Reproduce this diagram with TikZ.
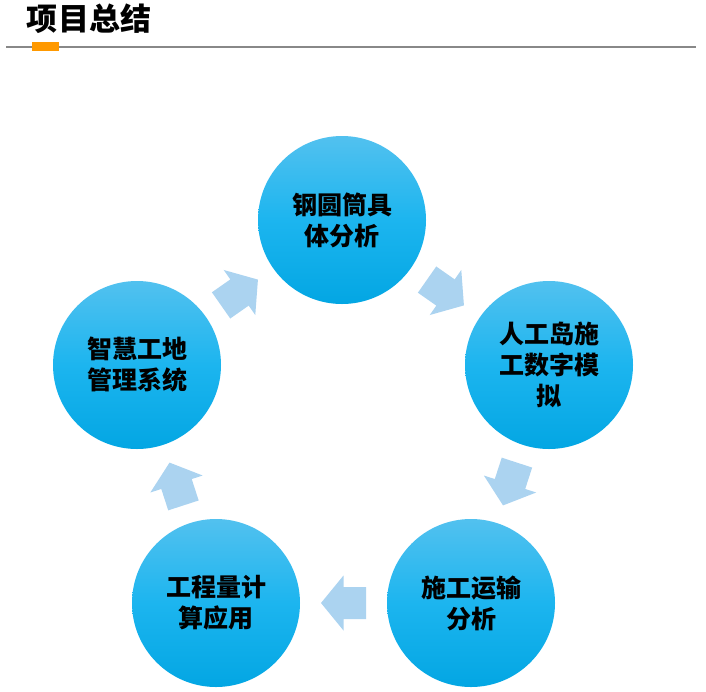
\documentclass[tikz,border=0pt]{standalone}
\usepackage{fontspec}
\newfontfamily\cjk{Noto Sans CJK SC}
\usetikzlibrary{calc}
\definecolor{ctop}{HTML}{52C1EF}
\definecolor{cmid}{HTML}{1CB5EF}
\definecolor{cbot}{HTML}{03A6E3}
\definecolor{arrowblue}{HTML}{ABD3F0}
\definecolor{rulegray}{HTML}{888888}
\definecolor{accent}{HTML}{FF9900}
\tikzset{
  bubble/.style={circle, minimum size=168pt, inner sep=0pt,
    top color=ctop, bottom color=cbot, middle color=cmid,
    align=center, font=\cjk\bfseries\fontsize{25}{31}\selectfont, text=black},
  blockarrow/.pic={
    \fill[arrowblue] (22.5,0) -- (0,27.5) -- (0,16) -- (-22.5,16)
      -- (-22.5,-16) -- (0,-16) -- (0,-27.5) -- cycle;
    \coordinate (-tip) at (22.5,0);
  }
}
\begin{document}
\begin{tikzpicture}[x=1pt,y=-1pt]
\useasboundingbox (0,0) rectangle (706,691);
% title
\node[inner sep=0pt, font=\cjk\bfseries\fontsize{31}{31}\selectfont] (title) at (89,19) {项目总结};
\coordinate (ruleL) at (6,47);
\coordinate (ruleR) at (696,47);
\draw[rulegray, line width=2pt] (ruleL) -- (ruleR);
\fill[accent] (32,42) rectangle (59,51);
% circles
\node[bubble] (c1) at (342,220) {钢圆筒具\\体分析};
\node[bubble] (c2) at (549,365) {人工岛施\\工数字模\\拟};
\node[bubble] (c3) at (471,603) {施工运输\\分析};
\node[bubble] (c4) at (216,603) {工程量计\\算应用};
\node[bubble] (c5) at (137,365) {智慧工地\\管理系统};
% arrows
\pic[rotate=-35] (a12) at ($(c1)!0.5!(c2)$) {blockarrow};
\pic[rotate=-108] (a23) at ($(c2)!0.5!(c3)$) {blockarrow};
\pic[rotate=180] (a34) at ($(c3)!0.5!(c4)$) {blockarrow};
\pic[rotate=108] (a45) at ($(c4)!0.5!(c5)$) {blockarrow};
\pic[rotate=35] (a51) at ($(c5)!0.5!(c1)$) {blockarrow};
\end{tikzpicture}
\end{document}
